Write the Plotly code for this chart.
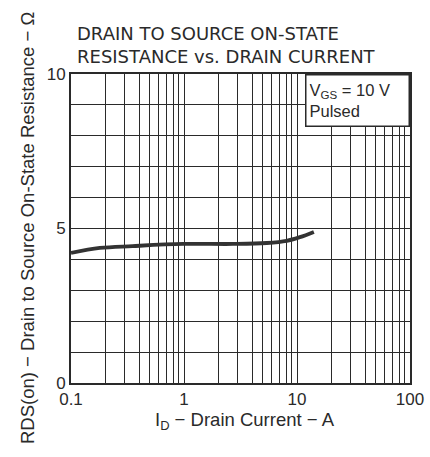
import plotly.graph_objects as go

# Data
drain_current_A = [0.1, 0.18, 0.35, 0.98, 2.7, 5.4, 8.1, 10.6, 14.1]
rds_on_ohm = [4.21, 4.37, 4.43, 4.50, 4.50, 4.53, 4.60, 4.72, 4.89]

x_tick_vals = [0.1, 1, 10, 100]
x_tick_text = ["0.1", "1", "10", "100"]
y_tick_vals = [0, 5, 10]
y_tick_text = ["0", "5", "10"]

title_lines = ["DRAIN TO SOURCE ON-STATE", "RESISTANCE vs. DRAIN CURRENT"]
legend_text = "V<sub>GS</sub> = 10 V<br>Pulsed"

x_minor = [m * 10.0 ** k for k in (-1, 0, 1) for m in range(2, 10)]

INK = "#2a2a2a"
FONT = "Liberation Sans, Arial, sans-serif"

# plot area in page px: x 71..410, y 74..383
PX0, PX1, PY0, PY1 = 71, 410, 74, 383
W, H = 430, 457
PW, PH = PX1 - PX0, PY1 - PY0


def px(page_x):
    return (page_x - PX0) / PW


def py(page_y):
    return (PY1 - page_y) / PH


fig = go.Figure()
fig.add_trace(go.Scatter(
    x=drain_current_A, y=rds_on_ohm, mode="lines",
    line=dict(color="#333333", width=3.8, shape="spline", smoothing=1.0),
    showlegend=False, hoverinfo="skip",
))

fig.update_layout(
    width=W, height=H,
    margin=dict(l=PX0, r=W - PX1, t=PY0, b=H - PY1, autoexpand=False),
    paper_bgcolor="white", plot_bgcolor="white",
    font=dict(family=FONT, color=INK, size=16),
    showlegend=False,
)

fig.update_xaxes(
    type="log", range=[-1, 2],
    tickvals=x_tick_vals, ticktext=x_tick_text,
    ticks="", showgrid=True, gridcolor=INK, gridwidth=1,
    minor=dict(tickvals=x_minor, showgrid=True, gridcolor=INK, gridwidth=1, ticks=""),
    showline=True, linecolor=INK, linewidth=2, mirror=True,
    zeroline=False, tickfont=dict(size=17, color=INK),
    ticklabeloverflow="allow", ticklabelstandoff=0,
)
fig.update_yaxes(
    range=[0, 10],
    tickvals=y_tick_vals, ticktext=y_tick_text,
    ticks="", showgrid=True, gridcolor=INK, gridwidth=1,
    minor=dict(dtick=1, showgrid=True, gridcolor=INK, gridwidth=1, ticks=""),
    showline=True, linecolor=INK, linewidth=2, mirror=True,
    zeroline=False, tickfont=dict(size=17, color=INK),
    ticklabeloverflow="allow",
)

# Title (two lines)
fig.add_annotation(text="<br>".join(title_lines), xref="paper", yref="paper",
                   x=px(75), y=py(45), xanchor="left", yanchor="middle", align="left",
                   showarrow=False, font=dict(family="DejaVu Sans, sans-serif", size=18, color=INK))

# Legend box
fig.add_annotation(text=legend_text, xref="paper", yref="paper",
                   x=1.0, y=1.0, xanchor="right", yanchor="top", align="left",
                   showarrow=False, bgcolor="white", bordercolor=INK, borderwidth=1.5,
                   borderpad=3, width=96, height=44,
                   font=dict(family=FONT, size=16.5, color=INK))

# Axis titles
fig.add_annotation(text="I<sub>D</sub> \u2212 Drain Current \u2212 A", xref="paper", yref="paper",
                   x=px(245), y=py(421), xanchor="center", yanchor="middle",
                   showarrow=False, font=dict(family=FONT, size=18.5, color=INK))
fig.add_annotation(text="RDS(on) \u2212 Drain to Source On-State Resistance \u2212 \u03a9",
                   xref="paper", yref="paper", textangle=-90,
                   x=px(27), y=py(228), xanchor="center", yanchor="middle",
                   showarrow=False, font=dict(family=FONT, size=18.5, color=INK))

fig.write_html(
    "out.html",
    config={"displayModeBar": False},
    post_script="document.body.style.margin='0';document.body.style.overflow='hidden';",
)
